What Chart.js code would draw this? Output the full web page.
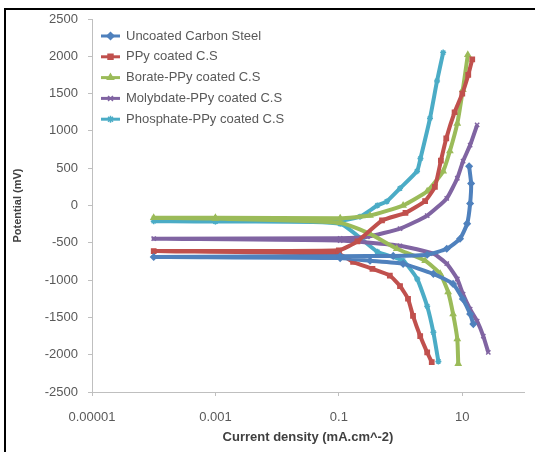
<!DOCTYPE html>
<html>
<head>
<meta charset="utf-8">
<script src="https://cdn.jsdelivr.net/npm/chart.js@4/dist/chart.umd.min.js"></script>
<style>
  html, body { margin: 0; padding: 0; background: #fff; }
  canvas { display: block; }
</style>
</head>
<body>
<canvas id="tafel" width="535" height="452"></canvas>
<script>
// Potentiodynamic polarization (Tafel) curves: current density (mA/cm^2) vs potential (mV)
const seriesNames = [
  'Uncoated Carbon Steel',
  'PPy coated C.S',
  'Borate-PPy coated C.S',
  'Molybdate-PPy coated C.S',
  'Phosphate-PPy coated C.S'
];

// Each sweep runs from the cathodic end, through Ecorr, up the anodic branch
const uncoatedCurrent   = [15.1, 13.4, 10.2, 7.1, 3.4, 1.1, 0.32, 0.105, 0.0001, 0.105, 0.76, 2.7, 5.6, 9.2, 12, 13.4, 13.9, 12.9];
const uncoatedPotential = [-1590, -1455, -1253, -1051, -916, -782, -741, -705, -690, -680, -676, -660, -580, -445, -243, 27, 296, 526];

const ppyCurrent   = [3.2, 2.7, 2.08, 1.59, 1.32, 0.98, 0.67, 0.35, 0.17, 0.1, 0.0001, 0.1, 0.2, 0.5, 1.2, 2.5, 3.6, 4.5, 5.5, 7.5, 10, 12.5, 14.5];
const ppyPotential = [-2100, -1970, -1750, -1480, -1250, -1080, -940, -850, -755, -650, -610, -600, -480, -200, -100, 60, 250, 600, 900, 1250, 1500, 1750, 1960];

const borateCurrent   = [8.6, 8.3, 7.1, 5.9, 4.4, 2.5, 0.87, 0.32, 0.105, 0.001, 0.0001, 0.001, 0.105, 0.32, 1.1, 2.7, 4.9, 6.3, 8.3, 10.2, 12.3];
const boratePotential = [-2120, -1790, -1455, -1160, -915, -740, -580, -380, -230, -175, -165, -165, -170, -135, 0, 190, 460, 730, 1100, 1550, 2020];

const molybdateCurrent   = [26.4, 21.9, 17.4, 13.4, 10.3, 8.3, 5.6, 3.4, 0.98, 0.105, 0.0001, 0.105, 0.29, 0.98, 2.7, 5.6, 8.3, 10.3, 13.4, 17.4];
const molybdatePotential = [-1970, -1750, -1550, -1390, -1190, -985, -780, -645, -540, -470, -445, -440, -420, -310, -135, 95, 365, 595, 810, 1080];

const phosphateCurrent   = [4.1, 3.4, 2.7, 1.86, 1.1, 0.42, 0.105, 0.001, 0.0001, 0.001, 0.105, 0.22, 0.42, 0.6, 0.98, 1.85, 2.1, 3.0, 3.9, 4.9];
const phosphatePotential = [-2090, -1700, -1350, -985, -740, -620, -245, -215, -210, -210, -205, -150, 0, 55, 230, 460, 630, 1170, 1670, 2050];

// Axis ticks
const xTickValues = [0.00001, 0.001, 0.1, 10];
const xTickLabels = ['0.00001', '0.001', '0.1', '10'];
const yTickStep = 500;

const seriesColors = ['#4F81BD', '#C0504D', '#9BBB59', '#8064A2', '#4BACC6'];
const seriesMarkers = ['rectRot', 'rect', 'triangle', 'crossRot', 'star'];

const currents   = [uncoatedCurrent, ppyCurrent, borateCurrent, molybdateCurrent, phosphateCurrent];
const potentials = [uncoatedPotential, ppyPotential, boratePotential, molybdatePotential, phosphatePotential];

const datasets = seriesNames.map((name, i) => ({
  label: name,
  data: currents[i].map((c, k) => ({ x: c, y: potentials[i][k] })),
  showLine: true,
  borderColor: seriesColors[i],
  backgroundColor: seriesColors[i],
  borderWidth: 4,
  pointStyle: seriesMarkers[i],
  pointRadius: 3,
  pointBorderWidth: 1.5,
  pointBorderColor: seriesColors[i],
  pointBackgroundColor: seriesColors[i],
  tension: 0.15
}));

const FONT = '"Liberation Sans", Arial, sans-serif';

// Legend drawn inside the plot area, top-left
const insideLegend = {
  id: 'insideLegend',
  afterDatasetsDraw(chart) {
    const ctx = chart.ctx;
    ctx.save();
    chart.data.datasets.forEach((ds, i) => {
      const y = 36 + i * 20.8;
      ctx.strokeStyle = ds.borderColor;
      ctx.fillStyle = ds.borderColor;
      ctx.lineWidth = 3;
      ctx.beginPath();
      ctx.moveTo(101, y);
      ctx.lineTo(120, y);
      ctx.stroke();
      ctx.lineWidth = 1.5;
      Chart.helpers.drawPoint(ctx, { pointStyle: ds.pointStyle, radius: 3.5, rotation: 0, borderWidth: 1.5 }, 110.5, y);
      ctx.fillStyle = '#595959';
      ctx.font = '13px ' + FONT;
      ctx.textAlign = 'left';
      ctx.textBaseline = 'middle';
      ctx.fillText(ds.label, 126, y);
    });
    ctx.restore();
  }
};

// White background and the black frame along the top and left edges
const frame = {
  id: 'frame',
  beforeDraw(chart) {
    const ctx = chart.ctx;
    ctx.save();
    ctx.fillStyle = '#ffffff';
    ctx.fillRect(0, 0, chart.width, chart.height);
    ctx.restore();
  },
  afterDraw(chart) {
    const ctx = chart.ctx;
    ctx.save();
    ctx.strokeStyle = '#000000';
    ctx.lineWidth = 2;
    ctx.beginPath();
    ctx.moveTo(5, chart.height);
    ctx.lineTo(5, 9);
    ctx.lineTo(chart.width, 9);
    ctx.stroke();
    ctx.restore();
  }
};

new Chart(document.getElementById('tafel'), {
  type: 'scatter',
  data: { datasets },
  options: {
    responsive: false,
    animation: false,
    layout: { padding: { top: 19, right: 11, left: 0, bottom: 0 } },
    scales: {
      x: {
        type: 'logarithmic',
        min: 0.00001,
        max: 100,
        afterBuildTicks(scale) {
          scale.ticks = xTickValues.map(v => ({ value: v }));
        },
        afterFit(scale) { scale.height = 60; },
        ticks: {
          autoSkip: false,
          maxRotation: 0,
          padding: 14,
          color: '#595959',
          font: { family: FONT, size: 13 },
          callback(value) {
            const k = xTickValues.findIndex(v => Math.abs(Math.log10(v) - Math.log10(value)) < 1e-6);
            return k >= 0 ? xTickLabels[k] : '';
          }
        },
        grid: { drawOnChartArea: false, drawTicks: true, tickLength: 4, color: '#bfbfbf' },
        border: { color: '#bfbfbf', width: 1 },
        title: {
          display: true,
          text: 'Current density (mA.cm^-2)',
          color: '#404040',
          font: { family: FONT, size: 13, weight: 'bold' },
          padding: { top: 0, bottom: 7 }
        }
      },
      y: {
        type: 'linear',
        min: -2500,
        max: 2500,
        afterFit(scale) { scale.width = 92; },
        ticks: {
          stepSize: yTickStep,
          padding: 10,
          color: '#595959',
          font: { family: FONT, size: 13 },
          callback(value) { return String(value); }
        },
        grid: { drawOnChartArea: false, drawTicks: true, tickLength: 4, color: '#bfbfbf' },
        border: { color: '#bfbfbf', width: 1 },
        title: {
          display: true,
          text: 'Potential (mV)',
          color: '#404040',
          font: { family: FONT, size: 11, weight: 'bold' },
          padding: { top: 11, bottom: 0 }
        }
      }
    },
    plugins: {
      legend: { display: false },
      tooltip: { enabled: false }
    }
  },
  plugins: [frame, insideLegend]
});
</script>
</body>
</html>
